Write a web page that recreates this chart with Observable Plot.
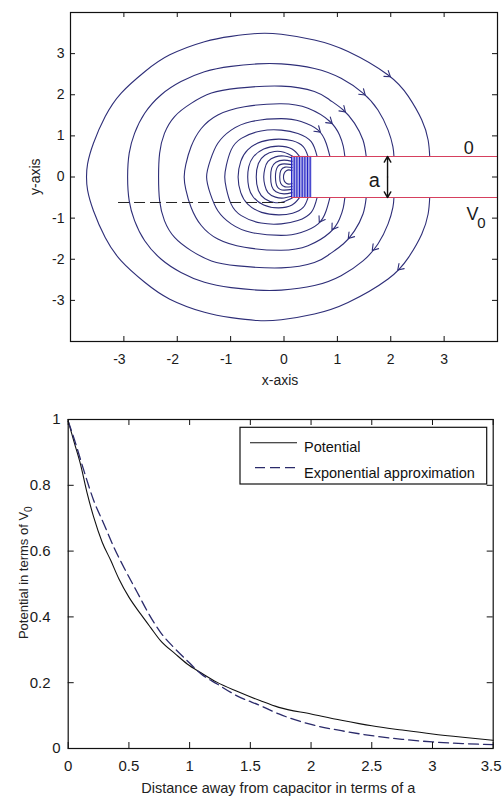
<!DOCTYPE html>
<html>
<head>
<meta charset="utf-8">
<script src="https://cdn.jsdelivr.net/npm/d3@7"></script>
<script src="https://cdn.jsdelivr.net/npm/@observablehq/plot@0.6"></script>
<style>
  html, body { margin: 0; padding: 0; background: #fff; overflow: hidden; }
  #wrap { width: 502px; }
  #wrap svg { display: block; }
</style>
</head>
<body>
<div id="wrap"></div>
<script>
// ---------- TOP PANEL DATA (field lines, upper halves: plate end -> left crossing) ----------
const curve1 = [[2.73,0.5],[2.70,0.90],[2.58,1.39],[2.33,1.96],[1.95,2.48],[1.20,3.05],[0.57,3.33],[-0.05,3.47],[-0.50,3.49],[-0.99,3.42],[-1.49,3.29],[-2.14,2.97],[-2.61,2.56],[-3.05,2.04],[-3.35,1.47],[-3.57,0.82],[-3.68,0.32],[-3.70,0]];
const curve2 = [[2.06,0.5],[2.04,0.74],[1.95,1.14],[1.76,1.63],[1.48,2.04],[1.07,2.40],[0.57,2.64],[-0.05,2.75],[-0.50,2.75],[-0.99,2.69],[-1.49,2.56],[-1.93,2.32],[-2.30,2.00],[-2.61,1.55],[-2.80,1.06],[-2.90,0.58],[-2.93,0]];
const curve3 = [[1.54,0.5],[1.48,0.90],[1.32,1.31],[1.11,1.63],[0.85,1.88],[0.57,2.08],[-0.05,2.21],[-0.86,2.16],[-1.36,2.04],[-1.74,1.79],[-2.05,1.47],[-2.24,1.06],[-2.33,0.58],[-2.35,0]];
const curve4 = [[1.14,0.5],[1.11,0.75],[1.04,1.02],[0.86,1.35],[0.45,1.67],[-0.05,1.78],[-0.74,1.71],[-1.24,1.51],[-1.55,1.18],[-1.74,0.74],[-1.84,0.30],[-1.87,0]];
const curve5 = [[0.86,0.5],[0.79,0.82],[0.64,1.14],[0.32,1.35],[-0.05,1.42],[-0.61,1.35],[-0.99,1.14],[-1.24,0.82],[-1.38,0.41],[-1.45,0]];
const curve6 = [[0.62,0.5],[0.51,0.86],[0.26,1.06],[-0.05,1.14],[-0.43,1.12],[-0.80,0.94],[-0.99,0.66],[-1.08,0.28],[-1.11,0]];
const curve7 = [[0.45,0.5],[0.36,0.74],[0.16,0.88],[-0.10,0.92],[-0.42,0.86],[-0.68,0.66],[-0.81,0.38],[-0.86,0]];
const curve8 = [[0.29,0.5],[0.15,0.68],[-0.10,0.75],[-0.38,0.68],[-0.58,0.48],[-0.66,0.25],[-0.68,0]];
const curve9 = [[0.17,0.5],[0.00,0.60],[-0.18,0.62],[-0.36,0.53],[-0.48,0.33],[-0.52,0]];
const curve10 = [[0.14,0.47],[0.00,0.51],[-0.16,0.49],[-0.30,0.38],[-0.36,0.20],[-0.38,0]];
const curve11 = [[0.15,0.38],[0.00,0.41],[-0.15,0.36],[-0.23,0.22],[-0.25,0]];
const curve12 = [[0.15,0.30],[0.00,0.32],[-0.12,0.25],[-0.16,0]];
const curve13 = [[0.15,0.23],[0.02,0.24],[-0.06,0.16],[-0.08,0]];
const curve14 = [[0.15,0.16],[0.05,0.16],[-0.01,0]];
const fieldLines = [curve1, curve2, curve3, curve4, curve5, curve6, curve7, curve8, curve9, curve10, curve11, curve12, curve13, curve14];

// dense field lines near the plate edge
const edgeLinesX = [0.14, 0.17, 0.20, 0.23, 0.26, 0.29, 0.32, 0.35, 0.38, 0.41, 0.44, 0.47, 0.50];
// capacitor plates
const plateY = [0.5, -0.5];
const plateStartX = 0.14, plateEndX = 4;
// dashed reference line
const dashedY = -0.62, dashedStartX = -3.1, dashedEndX = 0.02;
// field direction arrows
const arrowX = [1.95, 1.48, 1.11, 0.86, 0.64, 2.17, 1.69, 1.24, 0.93, 0.69];
const arrowY = [2.48, 2.04, 1.63, 1.35, 1.14, -2.21, -1.73, -1.44, -1.22, -1.04];
const arrowAngle = [127, 131, 133, 130, 131, 224, 221, 220, 215, 211];
// separation arrow "a"
const separationX = 1.94;
// annotation labels
const labelZero = {x: 3.46, y: 0.70, text: "0"};
const labelA = {x: 1.69, y: -0.08, text: "a"};
const labelV = {x: 3.53, y: -0.90, text: "V"};
const labelVsub = {x: 3.70, y: -1.13, text: "0"};
const xTicksTop = [-3, -2, -1, 0, 1, 2, 3];
const yTicksTop = [-3, -2, -1, 0, 1, 2, 3];

// ---------- BOTTOM PANEL DATA ----------
const potentialX = [0, 0.05, 0.10, 0.157, 0.21, 0.28, 0.35, 0.417, 0.50, 0.596, 0.678, 0.76, 0.884, 0.98, 1.09, 1.227, 1.39, 1.584, 1.735, 2.0, 2.25, 2.5, 2.75, 3.0, 3.25, 3.5];
const potentialY = [0.995, 0.93, 0.866, 0.775, 0.703, 0.627, 0.572, 0.516, 0.46, 0.409, 0.368, 0.328, 0.287, 0.257, 0.231, 0.201, 0.174, 0.145, 0.125, 0.105, 0.086, 0.069, 0.056, 0.044, 0.034, 0.025];
const expX = [0, 0.05, 0.128, 0.21, 0.293, 0.376, 0.472, 0.568, 0.664, 0.76, 0.87, 0.993, 1.09, 1.227, 1.39, 1.584, 1.735, 2.0, 2.25, 2.5, 2.75, 3.0, 3.25, 3.5];
const expY = [0.995, 0.94, 0.846, 0.754, 0.683, 0.612, 0.541, 0.475, 0.409, 0.353, 0.307, 0.262, 0.228, 0.196, 0.160, 0.130, 0.105, 0.073, 0.054, 0.039, 0.028, 0.020, 0.015, 0.012];
const xTicksBottom = [0, 0.5, 1, 1.5, 2, 2.5, 3, 3.5];
const yTicksBottom = [0, 0.2, 0.4, 0.6, 0.8, 1];
const seriesNames = ["Potential", "Exponential approximation"];

// ---------- BUILD ----------
const FONT = "'Liberation Sans', Arial, Helvetica, sans-serif";
const LINE = "#2e2e78";
const INK = "#1a1a1a";

const curveRows = [];
fieldLines.forEach((upper, id) => {
  upper.forEach(([x, y]) => curveRows.push({x, y, id}));
  upper.slice(0, -1).reverse().forEach(([x, y]) => curveRows.push({x, y: -y, id}));
});
const arrowRows = arrowX.map((x, i) => ({x, y: arrowY[i], r: arrowAngle[i]}));
const sepRows = [
  {x1: separationX, y1: 0, x2: separationX, y2: plateY[0]},
  {x1: separationX, y1: 0, x2: separationX, y2: plateY[1]}
];
const chevron = {
  draw(ctx, l) {
    ctx.moveTo(-3.6, -l + 5.5);
    ctx.lineTo(0, -l);
    ctx.lineTo(3.6, -l + 5.5);
  }
};

// Top panel layout
const T = {w: 502, h: 395, mt: 12, ml: 70, mr: 5, mb: 54};
const TIW = T.w - T.ml - T.mr, TIH = T.h - T.mt - T.mb;
const fmt = d => String(d);

const topPlot = Plot.plot({
  width: T.w, height: T.h,
  marginTop: T.mt, marginLeft: T.ml, marginRight: T.mr, marginBottom: T.mb,
  x: {domain: [-4, 4]},
  y: {domain: [-4, 4]},
  style: {fontFamily: FONT, fontSize: "14px", color: INK, background: "white", overflow: "visible"},
  marks: [
    Plot.line(curveRows, {x: "x", y: "y", z: "id", curve: "natural", stroke: LINE, strokeWidth: 1.1}),
    Plot.ruleX(edgeLinesX, {x: d => d, y1: plateY[1], y2: plateY[0], stroke: "#2020c4", strokeWidth: 1}),
    Plot.ruleY(plateY, {y: d => d, x1: plateStartX, x2: plateEndX, stroke: "#d6405e", strokeWidth: 1.1}),
    Plot.ruleY([dashedY], {y: d => d, x1: dashedStartX, x2: dashedEndX, stroke: "#222", strokeWidth: 1, strokeDasharray: "11,5"}),
    Plot.vector(arrowRows, {x: "x", y: "y", rotate: "r", length: 6, anchor: "middle", shape: chevron, stroke: LINE, strokeWidth: 1.1}),
    Plot.arrow(sepRows, {x1: "x1", y1: "y1", x2: "x2", y2: "y2", stroke: "#111", strokeWidth: 1.4, headLength: 7}),
    Plot.text([labelZero], {x: "x", y: "y", text: "text", fontSize: 18, fill: INK}),
    Plot.text([labelA], {x: "x", y: "y", text: "text", fontSize: 20, fill: INK}),
    Plot.text([labelV], {x: "x", y: "y", text: "text", fontSize: 18, fill: INK}),
    Plot.text([labelVsub], {x: "x", y: "y", text: "text", fontSize: 15, fill: INK}),
    // inward ticks on all four sides
    Plot.ruleX(xTicksTop, {x: d => d, insetTop: TIH - 5, stroke: "#111"}),
    Plot.ruleX(xTicksTop, {x: d => d, insetBottom: TIH - 5, stroke: "#111"}),
    Plot.ruleY(yTicksTop, {y: d => d, insetRight: TIW - 5, stroke: "#111"}),
    Plot.ruleY(yTicksTop, {y: d => d, insetLeft: TIW - 5, stroke: "#111"}),
    Plot.axisX(xTicksTop.filter(d => d < 0), {tickSize: 0, tickPadding: 13, dx: -4.5, tickFormat: fmt, label: null}),
    Plot.axisX(xTicksTop.filter(d => d >= 0), {tickSize: 0, tickPadding: 13, tickFormat: fmt, label: null}),
    Plot.axisY(yTicksTop, {tickSize: 0, tickPadding: 6, tickFormat: fmt, label: null}),
    Plot.frame({stroke: "#111", strokeWidth: 1.2})
  ]
});

// Bottom panel layout
const B = {w: 502, h: 403, mt: 24, ml: 67.7, mr: 9.3, mb: 50};
const BIW = B.w - B.ml - B.mr, BIH = B.h - B.mt - B.mb;
const potentialRows = potentialX.map((x, i) => ({x, y: potentialY[i]}));
const expRows = expX.map((x, i) => ({x, y: expY[i]}));
const EXPCOL = "#2a2a6a";

const bottomPlot = Plot.plot({
  width: B.w, height: B.h,
  marginTop: B.mt, marginLeft: B.ml, marginRight: B.mr, marginBottom: B.mb,
  x: {domain: [0, 3.5]},
  y: {domain: [0, 1]},
  style: {fontFamily: FONT, fontSize: "15px", color: INK, background: "white", overflow: "visible"},
  marks: [
    Plot.line(potentialRows, {x: "x", y: "y", curve: "monotone-x", stroke: "#111", strokeWidth: 1.1}),
    Plot.line(expRows, {x: "x", y: "y", curve: "monotone-x", stroke: EXPCOL, strokeWidth: 1.3, strokeDasharray: "10,5"}),
    Plot.ruleX(xTicksBottom, {x: d => d, insetTop: BIH - 6, stroke: "#111"}),
    Plot.ruleX(xTicksBottom, {x: d => d, insetBottom: BIH - 6, stroke: "#111"}),
    Plot.ruleY(yTicksBottom, {y: d => d, insetRight: BIW - 6, stroke: "#111"}),
    Plot.ruleY(yTicksBottom, {y: d => d, insetLeft: BIW - 6, stroke: "#111"}),
    Plot.axisX(xTicksBottom.filter(d => d < 3.5), {tickSize: 0, tickPadding: 12, tickFormat: fmt, label: null}),
    Plot.axisX(xTicksBottom.filter(d => d === 3.5), {tickSize: 0, tickPadding: 12, dx: -2, tickFormat: fmt, label: null}),
    Plot.axisY(yTicksBottom.filter(d => d === 0 || d === 1), {tickSize: 0, tickPadding: 7.7, tickFormat: fmt, label: null}),
    Plot.axisY(yTicksBottom.filter(d => d > 0 && d < 1), {tickSize: 0, tickPadding: 17.7, tickFormat: d => d.toFixed(1), label: null}),
    Plot.frame({stroke: "#111", strokeWidth: 1.2})
  ]
});

// ---------- axis labels & legend ----------
const ts = d3.select(topPlot);
ts.append("text").attr("x", 280).attr("y", 385).attr("text-anchor", "middle")
  .attr("font-family", FONT).attr("font-size", 14).attr("fill", "#222").text("x-axis");
ts.append("text").attr("transform", "translate(39.5,176.7) rotate(-90)").attr("text-anchor", "middle")
  .attr("font-family", FONT).attr("font-size", 14).attr("fill", "#222").text("y-axis");

const bs = d3.select(bottomPlot);
bs.append("text").attr("x", 278.3).attr("y", 397.5).attr("text-anchor", "middle")
  .attr("font-family", FONT).attr("font-size", 14.5).attr("fill", "#222")
  .text("Distance away from capacitor in terms of a");
const yl = bs.append("text").attr("transform", "translate(28,177.7) rotate(-90)").attr("text-anchor", "middle")
  .attr("font-family", FONT).attr("font-size", 13).attr("fill", "#222");
yl.append("tspan").text("Potential in terms of V");
yl.append("tspan").attr("dy", 4).attr("font-size", 10).text("0");

// legend
const lg = bs.append("g").attr("font-family", FONT).attr("font-size", 14.5).attr("fill", "#111").attr("text-anchor", "start");
lg.append("rect").attr("x", 240).attr("y", 32.3).attr("width", 246.7).attr("height", 56.7)
  .attr("fill", "white").attr("stroke", "#111").attr("stroke-width", 1.2);
lg.append("line").attr("x1", 250).attr("x2", 297).attr("y1", 47.7).attr("y2", 47.7)
  .attr("stroke", "#111").attr("stroke-width", 1.1);
lg.append("line").attr("x1", 255).attr("x2", 300).attr("y1", 72.7).attr("y2", 72.7)
  .attr("stroke", EXPCOL).attr("stroke-width", 1.3).attr("stroke-dasharray", "10,5");
lg.append("text").attr("x", 304).attr("y", 57.3).attr("text-anchor", "start").text(seriesNames[0]);
lg.append("text").attr("x", 304).attr("y", 82.5).attr("text-anchor", "start").text(seriesNames[1]);

const wrap = document.getElementById("wrap");
wrap.appendChild(topPlot);
wrap.appendChild(bottomPlot);
</script>
</body>
</html>
